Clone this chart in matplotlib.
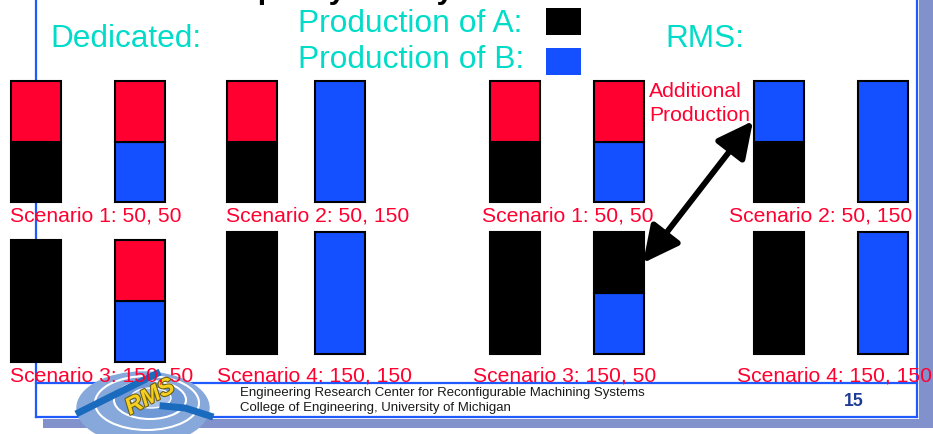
"""Slide: dedicated lines vs RMS, machine load per demand scenario."""

import matplotlib
matplotlib.use("Agg")
import matplotlib.pyplot as plt
from matplotlib.patches import Ellipse, FancyArrowPatch, Rectangle
import matplotlib.patheffects as pe

plt.rcParams['font.family'] = ['Liberation Sans', 'DejaVu Sans']

W, H = 933, 434

# Demand scenarios (A, B) and what each of the two machines produces.
scenario_labels = ["Scenario 1: 50, 50", "Scenario 2: 50, 150",
                   "Scenario 3: 150, 50", "Scenario 4: 150, 150"]
capacity = 100
ded_m1_a = [50, 50, 100, 100]
ded_m2_b = [50, 100, 50, 100]
rms_m1_a = [50, 50, 100, 100]
rms_m1_b = [0, 50, 0, 0]
rms_m2_b = [50, 100, 50, 100]
rms_m2_a = [0, 0, 50, 0]

RED = '#FF0030'
BLUE = '#1450FF'
CYAN = '#00DCC8'
FRAME = '#1E5AFF'
SHADOW = '#8191CC'

# Panel placement in pixels: (centre bar 1, centre bar 2, top, bottom)
ded_panels = [(35.5, 139.5, 81, 202), (251.5, 339.5, 81, 202),
              (35.5, 139.5, 240, 362), (251.5, 339.5, 232, 354)]
rms_panels = [(514.5, 618.5, 81, 202), (778.5, 882.5, 81, 202),
              (514.5, 618.5, 232, 354), (778.5, 882.5, 232, 354)]
ded_label_pos = [(10, 222), (226, 222), (10, 382), (217, 382)]
rms_label_pos = [(482, 222), (729, 222), (473, 382), (737, 382)]
BAR_PX = 50


def px_axes(fig, left, top, right, bottom, z):
    ax = fig.add_axes([left / W, 1 - bottom / H, (right - left) / W, (bottom - top) / H])
    ax.set_zorder(z)
    ax.axis('off')
    ax.patch.set_visible(False)
    return ax


def draw_panel(fig, panel, bars):
    """bars: one list per machine of (value, colour) from bottom to top."""
    c0, c1, top, bottom = panel
    gap = c1 - c0
    half = BAR_PX / 2.0
    ax = px_axes(fig, c0 - half, top, c1 + half, bottom, 1)
    ax.set_xlim(-half / gap, 1 + half / gap)
    ax.set_ylim(0, capacity)
    for i, segs in enumerate(bars):
        base = 0
        for val, col in segs:
            if val <= 0:
                continue
            ax.bar(i, val, bottom=base, width=BAR_PX / gap, color=col,
                   edgecolor='black', linewidth=1.5, clip_on=False)
            base += val
    return ax


fig = plt.figure(figsize=(W / 100, H / 100), dpi=100)
bg = fig.add_axes([0, 0, 1, 1])
bg.set_xlim(0, W)
bg.set_ylim(H, 0)
bg.axis('off')

# slide frame and shadow
bg.add_patch(Rectangle((919, 0), 14, 428, color=SHADOW, lw=0))
bg.add_patch(Rectangle((43, 419), 890, 9, color=SHADOW, lw=0))
bg.plot([36, 36], [0, 417], color=FRAME, lw=1.6)
bg.plot([917, 917], [0, 417], color=FRAME, lw=1.6)
bg.plot([36, 917], [383, 383], color=FRAME, lw=1.6)
bg.plot([36, 917], [417, 417], color=FRAME, lw=1.6)

# logo
bg.add_patch(Ellipse((143, 408), 132, 72, color='#86A8DA', zorder=3))
bg.add_patch(Ellipse((147, 403), 104, 54, fc='none', ec='white', lw=1.5, zorder=3))
bg.add_patch(Ellipse((150, 400), 72, 38, fc='#6E98D6', ec='white', lw=1.5, zorder=3))
bg.add_patch(Ellipse((151, 398), 40, 20, fc='#A9C2E8', ec='white', lw=1, zorder=3))
bg.plot([76, 160], [414, 372], color='#1A6ABE', lw=5, solid_capstyle='butt', zorder=4)
bg.plot([163, 185, 210], [406, 408, 416], color='#1A6ABE', lw=5, zorder=4)
bg.text(150, 397, "RMS", color='#F5D020', fontsize=17, fontweight='bold', style='italic',
        rotation=28, ha='center', va='center', zorder=5,
        path_effects=[pe.withStroke(linewidth=1.5, foreground='#6B5A10')])

# footer text
bg.text(240, 396, "Engineering Research Center for Reconfigurable Machining Systems",
        fontsize=9.5, color='#1A1A1A', va='baseline')
bg.text(240, 410.5, "College of Engineering, University of Michigan",
        fontsize=9.5, color='#1A1A1A', va='baseline')
bg.text(844, 405.5, "15", fontsize=12.7, fontweight='bold', color='#1E3C96', va='baseline')

# bars
for k in range(4):
    draw_panel(fig, ded_panels[k], [
        [(ded_m1_a[k], 'black'), (capacity - ded_m1_a[k], RED)],
        [(ded_m2_b[k], BLUE), (capacity - ded_m2_b[k], RED)],
    ])
    draw_panel(fig, rms_panels[k], [
        [(rms_m1_a[k], 'black'), (rms_m1_b[k], BLUE),
         (capacity - rms_m1_a[k] - rms_m1_b[k], RED)],
        [(rms_m2_b[k], BLUE), (rms_m2_a[k], 'black'),
         (capacity - rms_m2_a[k] - rms_m2_b[k], RED)],
    ])

ov = px_axes(fig, 0, 0, W, H, 2)
ov.set_xlim(0, W)
ov.set_ylim(H, 0)

# title (only the descenders show above the slide)
ov.text(219, -1, "Capacity Variety", fontsize=21.9, fontweight='bold',
        color='black', va='baseline')

ov.text(50, 47, "Dedicated:", fontsize=22.7, color=CYAN, va='baseline')
ov.text(665, 47, "RMS:", fontsize=22.7, color=CYAN, va='baseline')
ov.text(298, 32, "Production of A:", fontsize=22.9, color=CYAN, va='baseline')
ov.text(298, 68, "Production of B:", fontsize=22.9, color=CYAN, va='baseline')
ov.add_patch(Rectangle((546, 8), 35, 27, color='black', lw=0))
ov.add_patch(Rectangle((546, 48), 35, 27, color=BLUE, lw=0))

for k in range(4):
    ov.text(*ded_label_pos[k], scenario_labels[k], fontsize=15.2, color=RED, va='baseline')
    ov.text(*rms_label_pos[k], scenario_labels[k], fontsize=15.2, color=RED, va='baseline')

ov.text(649, 97, "Additional", fontsize=15.2, color=RED, va='baseline')
ov.text(649, 121, "Production", fontsize=15.2, color=RED, va='baseline')

ov.add_patch(FancyArrowPatch((643, 263), (753, 121),
                             arrowstyle='<|-|>,head_length=1.0,head_width=0.5',
                             mutation_scale=22, lw=4.2, color='black',
                             shrinkA=0, shrinkB=0))

fig.savefig('out.png', dpi=100)
